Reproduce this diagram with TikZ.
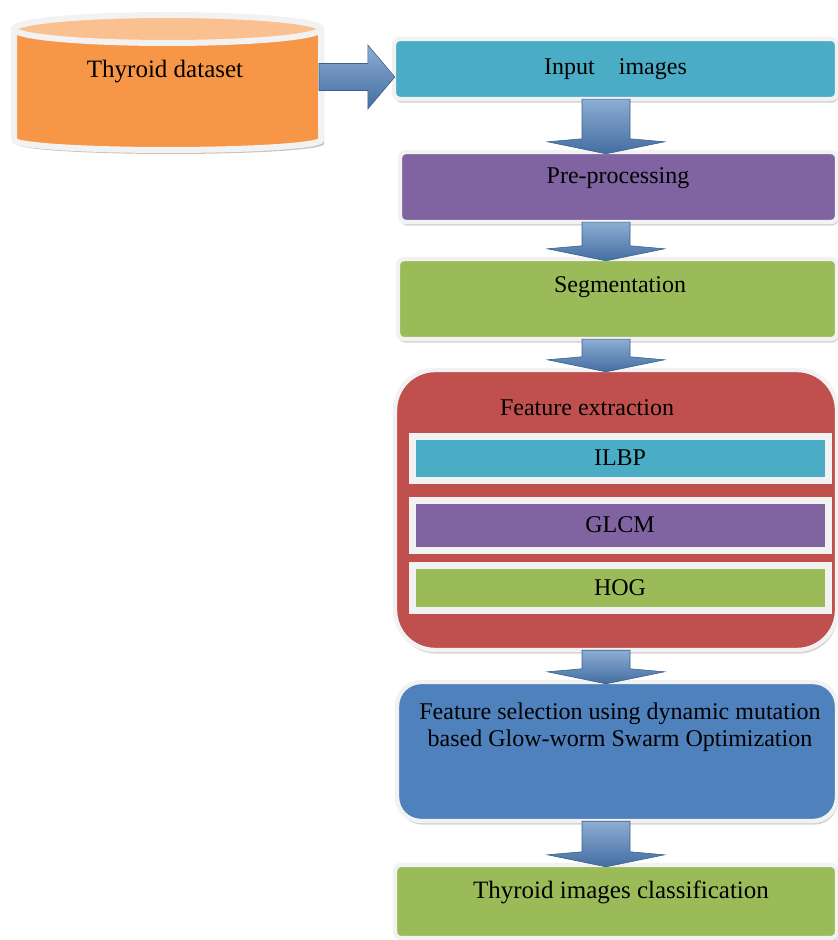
\documentclass[tikz,border=0pt]{standalone}
\usepackage{fontspec}
\setmainfont{Liberation Serif}
\usetikzlibrary{calc,shadows}
\definecolor{dsorange}{HTML}{F79646}
\definecolor{dstop}{HTML}{FAC090}
\definecolor{cyanbox}{HTML}{4BACC6}
\definecolor{purplebox}{HTML}{8064A2}
\definecolor{greenbox}{HTML}{9BBB59}
\definecolor{redbox}{HTML}{C0504D}
\definecolor{bluebox}{HTML}{4F81BD}
\definecolor{rim}{HTML}{F2F2F2}
\tikzset{
  stage/.style={rectangle, draw=rim, line width=2.2pt, rounded corners=3pt,
    drop shadow={shadow xshift=0.6pt, shadow yshift=-1.8pt, opacity=0.35}},
  method/.style={rectangle, draw=rim, line width=3.5pt, inner sep=0pt,
    font=\fontsize{12}{14}\selectfont,
    drop shadow={shadow xshift=0.6pt, shadow yshift=-1.5pt, opacity=0.35}},
  lbl/.style={font=\fontsize{12}{13.5}\selectfont, inner sep=0pt, align=center},
  biglbl/.style={lbl, font=\fontsize{12.5}{15}\selectfont},
  barrow/.style={top color=bluebox!65!white, bottom color=bluebox!85!black,
    draw=bluebox!75!black, line width=0.3pt}
}
\newcommand{\flowdown}[2]{%
  \path[barrow] let \p1=(#1.south -| spine), \p2=(#2.north -| spine) in
    (\x1-12pt,\y1+1pt) -- (\x1+12pt,\y1+1pt) -- (\x1+12pt,\y2+5.5pt)
    -- (\x1+29.25pt,\y2+4pt) -- (\x1,\y2-2pt) -- (\x1-29.25pt,\y2+4pt)
    -- (\x1-12pt,\y2+5.5pt) -- cycle;}
\begin{document}
\begin{tikzpicture}[x=0.5pt,y=-0.5pt]
  \useasboundingbox (0,0) rectangle (838,940);
  \coordinate (spine) at (606,0);
  % dataset cylinder
  \fill[brown!45!black!30] (17,34) -- (17,144) arc[start angle=180, end angle=360, x radius=76.75pt, y radius=5pt] -- (324,34) -- cycle;
  \filldraw[draw=rim, line width=3pt, fill=dsorange] (14,29) -- (14,140)
    arc[start angle=180, end angle=360, x radius=76.75pt, y radius=5pt] -- (321,29) -- cycle;
  \filldraw[draw=rim, line width=3pt, fill=dstop] (167.5,29) ellipse[x radius=76.75pt, y radius=7pt];
  \node[biglbl] (db) at (165,72) {Thyroid dataset};
  \coordinate (dbedge) at (319,77);

  \node[stage, fill=cyanbox, font=\fontsize{12}{14}\selectfont, minimum width=221.5pt, minimum height=30pt] (inp) at (615.5,69) {Input\ \ \ \ images};
  \node[stage, fill=purplebox, minimum width=218.5pt, minimum height=35pt] (pre) at (618.5,187) {};
  \node[lbl] (pretxt) at (618,178) {Pre-processing};
  \node[stage, fill=greenbox, minimum width=219.5pt, minimum height=40pt] (seg) at (617.5,299) {};
  \node[lbl] (segtxt) at (620,287) {Segmentation};

  \node[stage, fill=redbox, rounded corners=20pt, minimum width=221pt, minimum height=140pt] (feat) at (616,510) {};
  \node[lbl] (feattxt) at (587,408) {Feature extraction};
  \node[method, fill=cyanbox, minimum width=208pt, minimum height=22pt] (ilbp) at (620,458) {ILBP};
  \node[method, fill=purplebox, minimum width=208pt, minimum height=25pt] (glcm) at (620,525) {GLCM};
  \node[method, fill=greenbox, minimum width=208pt, minimum height=22.5pt] (hog) at (620,587.5) {HOG};

  \node[stage, fill=bluebox, rounded corners=12pt, minimum width=220pt, minimum height=69.5pt] (sel) at (617,751.5) {};
  \node[lbl] (seltxt) at (620,727) {Feature selection using dynamic mutation\\based Glow-worm Swarm Optimization};
  \node[stage, fill=greenbox, minimum width=221pt, minimum height=36.5pt] (cls) at (616,901.5) {};
  \node[biglbl] (clstxt) at (621,892) {Thyroid images classification};

  % block arrows
  \path[barrow] let \p1=(dbedge), \p2=(inp.west) in
    (\x1,\y1+6.75pt) -- (\x2-12pt,\y1+6.75pt) -- (\x2-12pt,\y1+16pt) -- (\x2+1.5pt,\y1)
    -- (\x2-12pt,\y1-16pt) -- (\x2-12pt,\y1-6.75pt) -- (\x1,\y1-6.75pt) -- cycle;
  \foreach \a/\b in {inp/pre, pre/seg, seg/feat, feat/sel, sel/cls}
    \flowdown{\a}{\b};
\end{tikzpicture}
\end{document}
